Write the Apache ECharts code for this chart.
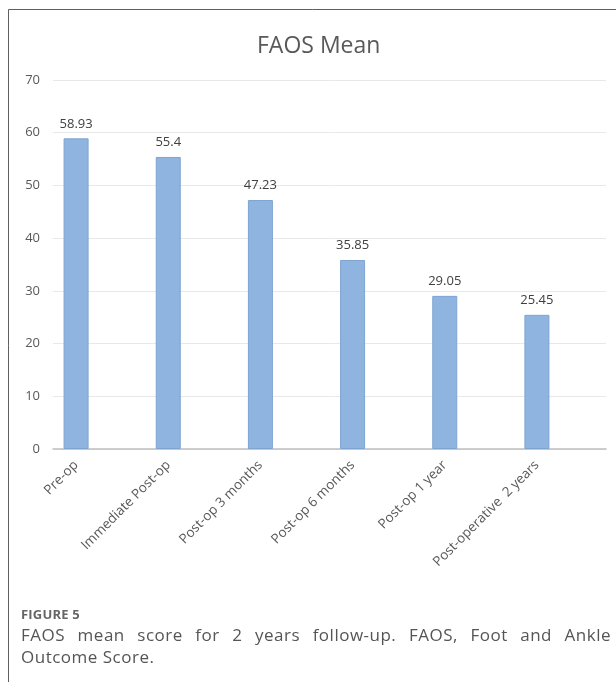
<!DOCTYPE html>
<html>
<head>
<meta charset="utf-8">
<script src="https://cdn.jsdelivr.net/npm/echarts@6/dist/echarts.min.js"></script>
<style>
  html, body { margin: 0; padding: 0; background: #fff; }
  #wrap { position: relative; width: 616px; height: 682px; overflow: hidden; }
  #chart { position: absolute; left: 0; top: 0; width: 616px; height: 682px; }
  #caption {
    position: absolute; left: 21px; top: 605px; width: 590px;
    font-family: "Open Sans", "Noto Sans", sans-serif; color: #555;
  }
  #caption .fig { font-size: 13px; font-weight: 700; color: #666; letter-spacing: 0.2px; line-height: 19px; }
  #caption .txt { font-size: 17px; line-height: 22px; letter-spacing: 0.5px; }
  #caption .just { text-align: justify; text-align-last: justify; }
</style>
</head>
<body>
<div id="wrap">
  <div id="chart"></div>
  <div id="caption">
    <div class="fig">FIGURE 5</div>
    <div class="txt just">FAOS mean score for 2 years follow-up. FAOS, Foot and Ankle</div>
    <div class="txt">Outcome Score.</div>
  </div>
</div>
<script>
// FAOS mean score at each follow-up point
const categories = ['Pre-op', 'Immediate Post-op', 'Post-op 3 months', 'Post-op 6 months', 'Post-op 1 year', 'Post-operative  2 years'];
const faosMean = [58.93, 55.4, 47.23, 35.85, 29.05, 25.45];
const yTicks = { min: 0, max: 70, interval: 10 };

const FONT = '"Open Sans", "Noto Sans", sans-serif';
const chart = echarts.init(document.getElementById('chart'), null, { renderer: 'canvas' });

chart.setOption({
  animation: false,
  backgroundColor: '#fff',
  graphic: [
    // frame: top and left rules
    { type: 'line', shape: { x1: 8.5, y1: 9.5, x2: 616, y2: 9.5 }, style: { stroke: '#5f5f5f', lineWidth: 1 } },
    { type: 'line', shape: { x1: 8.5, y1: 9.5, x2: 8.5, y2: 682 }, style: { stroke: '#5f5f5f', lineWidth: 1 } },
    { type: 'text', left: 257, top: 35, style: { text: 'FAOS Mean', font: '23px ' + FONT, fill: '#595959' } }
  ],
  grid: [
    // bars and category labels
    { left: 30, right: 33, top: 80, height: 369 },
    // value scale, gridlines and baseline
    { left: 53, right: 10, top: 80, height: 369 }
  ],
  xAxis: [
    {
      type: 'category', gridIndex: 0, data: categories,
      axisLine: { show: false }, axisTick: { show: false },
      axisLabel: { rotate: 45, margin: 14, interval: 0, color: '#595959', fontSize: 13.5, fontFamily: FONT }
    },
    {
      type: 'category', gridIndex: 1, data: categories,
      axisLine: { show: true, lineStyle: { color: '#bfbfbf', width: 1.5 } },
      axisTick: { show: false }, axisLabel: { show: false }
    }
  ],
  yAxis: [
    { type: 'value', gridIndex: 0, min: yTicks.min, max: yTicks.max, interval: yTicks.interval, show: false, splitLine: { show: false } },
    {
      type: 'value', gridIndex: 1, min: yTicks.min, max: yTicks.max, interval: yTicks.interval,
      axisLine: { show: false }, axisTick: { show: false },
      axisLabel: { margin: 13, color: '#595959', fontSize: 13, fontFamily: FONT },
      splitLine: { lineStyle: { color: '#e8e8e8', width: 1 } }
    }
  ],
  series: [{
    type: 'bar', xAxisIndex: 0, yAxisIndex: 0,
    data: faosMean, barWidth: 25,
    itemStyle: { color: '#8fb4e0', borderColor: '#7ea4d2', borderWidth: 1 },
    label: { show: true, position: 'top', distance: 8, color: '#404040', fontSize: 13, fontFamily: FONT }
  }]
});
</script>
</body>
</html>
